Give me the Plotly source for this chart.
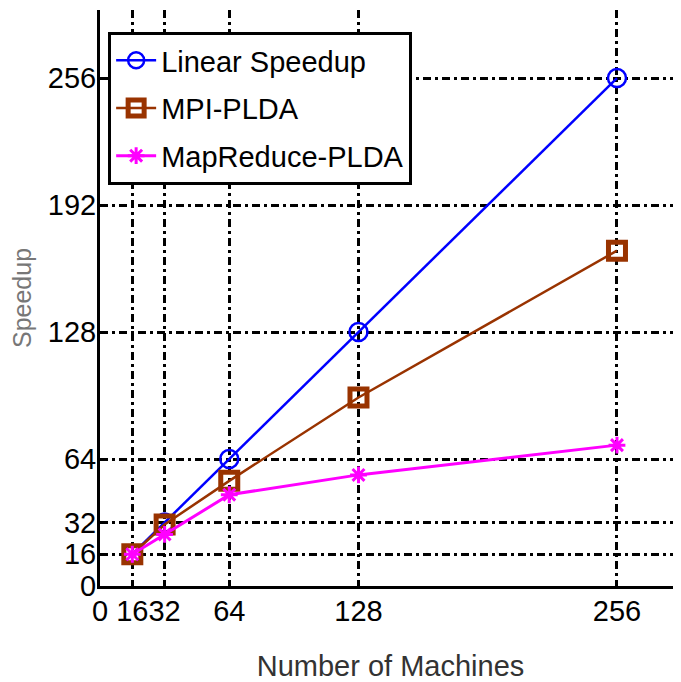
import plotly.graph_objects as go

machines = [16, 32, 64, 128, 256]
linear_speedup = [16, 32, 64, 128, 256]
mpi_plda = [16, 31, 53, 95, 169]
mapreduce_plda = [16, 26, 46, 56, 71]

x_ticks = [0, 16, 32, 64, 128, 256]
y_ticks = [0, 16, 32, 64, 128, 192, 256]

FONT = "Liberation Sans, Arial, sans-serif"

fig = go.Figure()
fig.add_trace(go.Scatter(
    x=machines, y=linear_speedup, name="Linear Speedup", mode="lines+markers",
    legendgroup="a",
    line=dict(color="#0000FF", width=2.5),
    marker=dict(symbol="circle-open", size=18, color="#0000FF", line=dict(width=2.5, color="#0000FF")),
))
fig.add_trace(go.Scatter(
    x=machines, y=mpi_plda, name="MPI-PLDA", mode="lines+markers",
    legendgroup="b",
    line=dict(color="#993300", width=2.5),
    marker=dict(symbol="square-open", size=17, color="#993300", line=dict(width=5, color="#993300")),
))
fig.add_trace(go.Scatter(
    x=machines, y=mapreduce_plda, name="MapReduce-PLDA", mode="lines+markers",
    legendgroup="c",
    line=dict(color="#FF00FF", width=3),
    marker=dict(symbol="asterisk-open", size=14, color="#FF00FF", line=dict(width=3, color="#FF00FF")),
))

grid = dict(showgrid=True, gridcolor="black", gridwidth=2.5, griddash="8px,4px,3px,4px",
            zeroline=False, showline=True, linecolor="black", linewidth=3,
            ticks="inside", ticklen=6, tickwidth=2, tickcolor="black",
            automargin=False, tickangle=0,
            tickfont=dict(family=FONT, size=29, color="black"))

fig.update_layout(
    width=673, height=674,
    margin=dict(l=92, r=0, t=2, b=96),
    paper_bgcolor="white", plot_bgcolor="white",
    font=dict(family=FONT),
    xaxis=dict(range=[0, 287.7], tickmode="array", tickvals=x_ticks,
               ticktext=[str(v) for v in x_ticks], ticklabelstandoff=-3,
               title=dict(text="Number of Machines", font=dict(family=FONT, size=29, color="#333333"), standoff=30),
               **grid),
    yaxis=dict(range=[0, 290.3], tickmode="array", tickvals=y_ticks,
               ticktext=[str(v) for v in y_ticks], ticklabelstandoff=-5,
               title=dict(text="Speedup", font=dict(family=FONT, size=25, color="#777777"), standoff=10),
               **grid),
    legend=dict(x=0.014, y=0.962, xanchor="left", yanchor="top",
                bgcolor="white", bordercolor="black", borderwidth=3,
                font=dict(family=FONT, size=29, color="black"),
                itemwidth=40, tracegroupgap=7),
    showlegend=True,
)

fig.write_html("out.html")
